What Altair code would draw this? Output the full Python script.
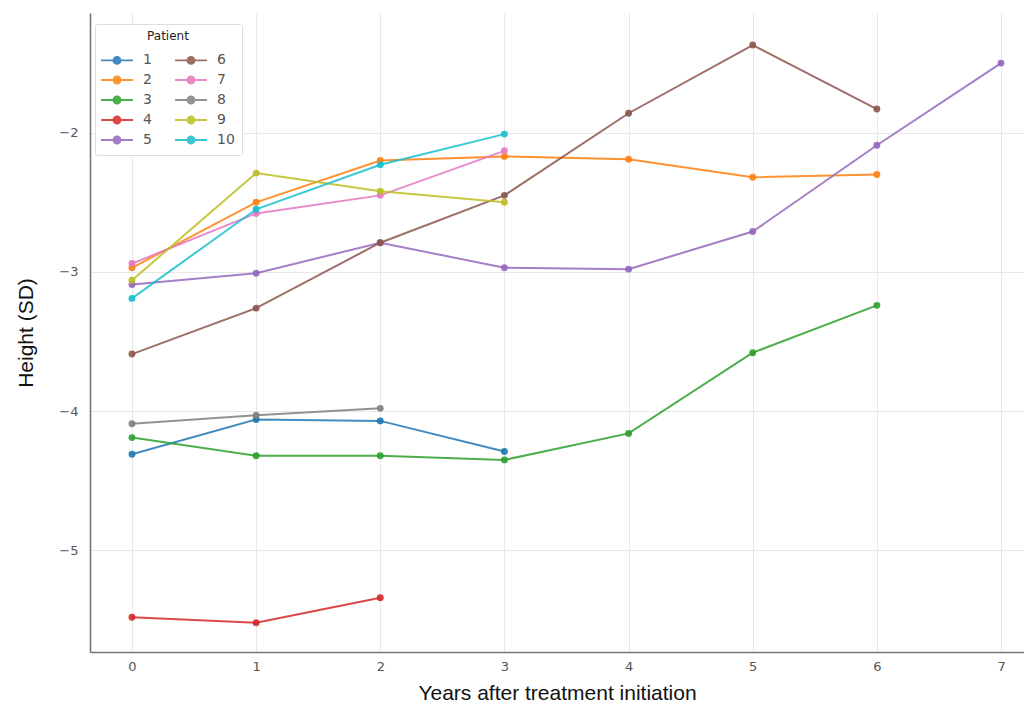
import altair as alt
import pandas as pd

years = [0, 1, 2, 3, 4, 5, 6, 7]
p1 = [-4.31, -4.06, -4.07, -4.29]
p2 = [-2.97, -2.50, -2.20, -2.17, -2.19, -2.32, -2.30]
p3 = [-4.19, -4.32, -4.32, -4.35, -4.16, -3.58, -3.24]
p4 = [-5.48, -5.52, -5.34]
p5 = [-3.09, -3.01, -2.79, -2.97, -2.98, -2.71, -2.09, -1.50]
p6 = [-3.59, -3.26, -2.79, -2.45, -1.86, -1.37, -1.83]
p7 = [-2.94, -2.58, -2.45, -2.13]
p8 = [-4.09, -4.03, -3.98]
p9 = [-3.06, -2.29, -2.42, -2.50]
p10 = [-3.19, -2.55, -2.23, -2.01]

patients = ["1", "2", "3", "4", "5", "6", "7", "8", "9", "10"]
series = [p1, p2, p3, p4, p5, p6, p7, p8, p9, p10]
colors = ["#1f77b4", "#ff7f0e", "#2ca02c", "#d62728", "#9467bd",
          "#8c564b", "#e377c2", "#7f7f7f", "#bcbd22", "#17becf"]

rows = []
for p, vals in zip(patients, series):
    for yr, v in zip(years, vals):
        rows.append({"Patient": p, "Year": yr, "Height": v})
df = pd.DataFrame(rows)

color = alt.Color(
    "Patient:N",
    sort=patients,
    scale=alt.Scale(domain=patients, range=colors),
    legend=alt.Legend(
        title="Patient",
        orient="none",
        legendX=5,
        legendY=11,
        columns=2,
        direction="vertical",
        titleAnchor="middle",
        titleFontSize=12,
        titleFontWeight="normal",
        titleFont="DejaVu Sans",
        titleColor="#222222",
        titlePadding=10,
        labelFontSize=14,
        labelFont="DejaVu Sans",
        labelColor="#555555",
        labelOffset=19,
        symbolOffset=8,
        symbolType="M-2.8,0H2.8M-0.62,0a0.62,0.62 0 1,0 1.24,0a0.62,0.62 0 1,0 -1.24,0",
        symbolSize=130,
        symbolStrokeWidth=1.8,
        symbolOpacity=0.85,
        columnPadding=19,
        rowPadding=4,
        padding=7,
        strokeColor="#dddddd",
        fillColor="white",
        cornerRadius=2,
    ),
)

x = alt.X(
    "Year:Q",
    scale=alt.Scale(domain=[-0.338, 7.185], nice=False, zero=False),
    axis=alt.Axis(
        title="Years after treatment initiation",
        values=years,
        format="d",
        ticks=False,
        labelFontSize=13,
        labelFont="DejaVu Sans",
        labelColor="#555555",
        labelPadding=8,
        titleFontSize=21,
        titleFont="Liberation Sans",
        titleFontWeight="normal",
        titleColor="#111111",
        titlePadding=9,
        domainColor="#777777",
        domainWidth=1.6,
        gridColor="#e8e8e8",
    ),
)

y = alt.Y(
    "Height:Q",
    scale=alt.Scale(domain=[-5.73, -1.14], nice=False, zero=False),
    axis=alt.Axis(
        title="Height (SD)",
        values=[-5, -4, -3, -2],
        format="d",
        ticks=False,
        labelFontSize=13,
        labelFont="DejaVu Sans",
        labelColor="#555555",
        labelPadding=12,
        titleFontSize=21,
        titleFont="Liberation Sans",
        titleFontWeight="normal",
        titleColor="#111111",
        titlePadding=22,
        domainColor="#777777",
        domainWidth=1.6,
        gridColor="#e8e8e8",
    ),
)

base = alt.Chart(df)
lines = base.mark_line(strokeWidth=2, opacity=0.85).encode(
    x=x, y=y, color=color, detail="Patient:N"
)
points = base.mark_circle(size=48, opacity=0.9).encode(
    x=x, y=y, color=color
)

chart = (
    alt.layer(lines, points)
    .properties(
        width=934,
        height=639,
        autosize=alt.AutoSizeParams(type="none"),
        padding={"left": 82, "top": 5, "right": 0, "bottom": 51},
        view=alt.ViewBackground(stroke="transparent", strokeWidth=0),
    )
    .configure_view(stroke="transparent", strokeWidth=0)
    .configure(background="white")
)

chart.save("out.html", embed_options={"renderer": "svg", "actions": False})
